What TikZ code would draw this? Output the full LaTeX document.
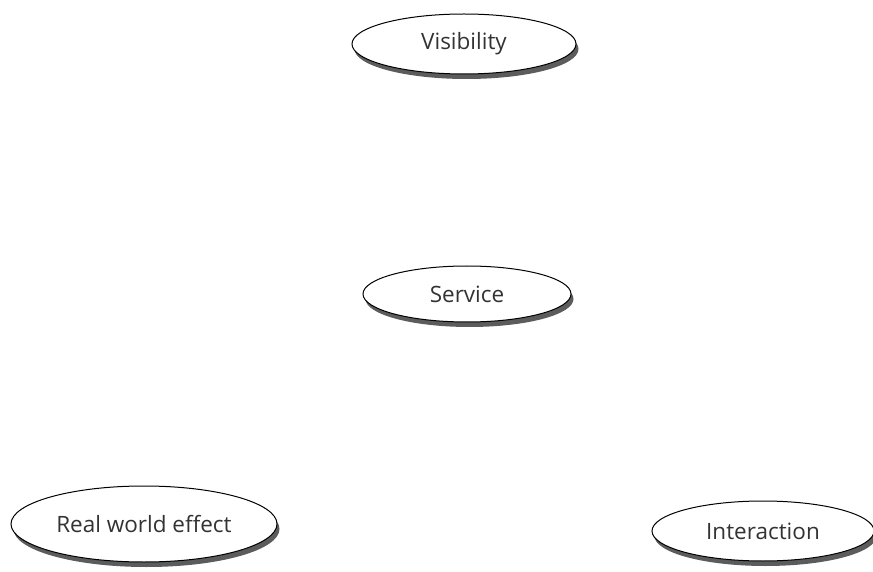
\documentclass[tikz,border=0pt]{standalone}
\usepackage{fontspec}
\setmainfont{Open Sans}
\usetikzlibrary{shapes.geometric,shadows}
\begin{document}
\begin{tikzpicture}[x=1pt,y=1pt,
  oval/.style={ellipse, draw=black, line width=1pt, fill=white, inner sep=0pt,
    font=\fontsize{22.5}{26}\selectfont, text=black!80,
    drop shadow={shadow xshift=2.5pt, shadow yshift=-5pt, fill=black!75, opacity=0.85}}]
\useasboundingbox (0,0) rectangle (873,571);
\node[oval, minimum width=224pt, minimum height=60pt] (vis) at (464,527) {Visibility};
\node[oval, minimum width=208pt, minimum height=56pt] (svc) at (467,277) {Service};
\node[oval, minimum width=266pt, minimum height=76pt] (rwe) at (144,47) {Real world effect};
\node[oval, minimum width=222pt, minimum height=60pt] (int) at (763,40) {Interaction};
\end{tikzpicture}
\end{document}
